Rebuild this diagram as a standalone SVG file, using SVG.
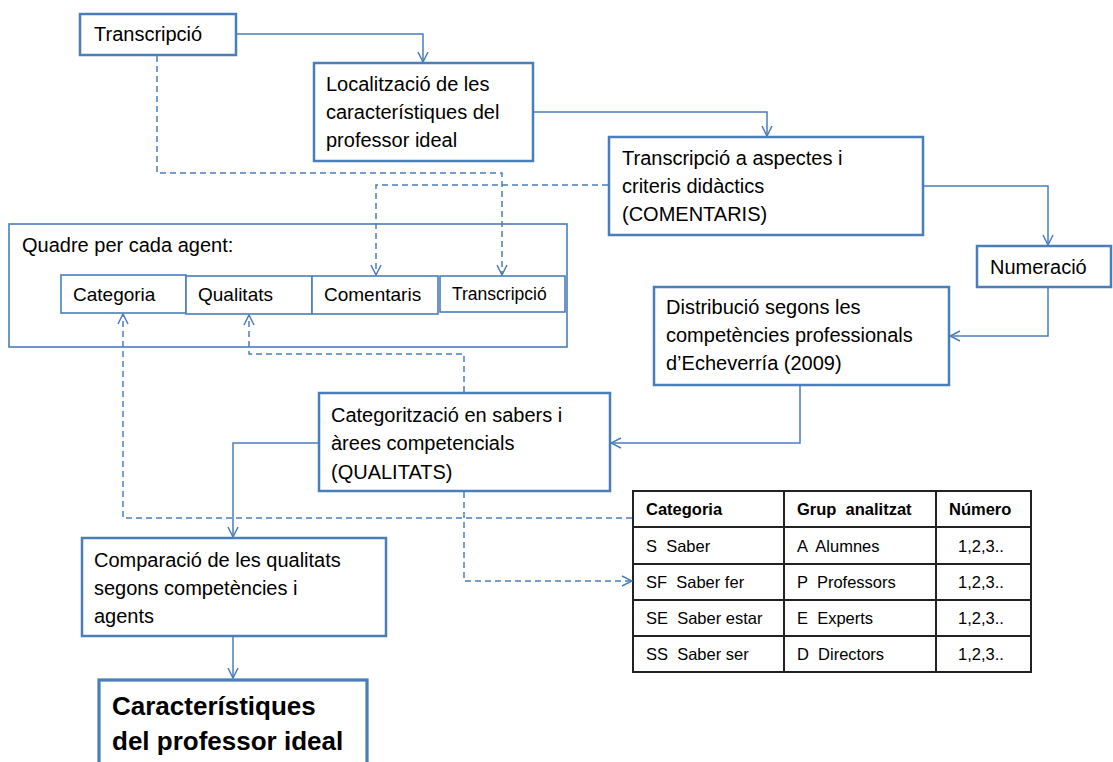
<svg xmlns="http://www.w3.org/2000/svg" width="1113" height="762" viewBox="0 0 1113 762">
  <style>
    .box { fill: #fff; stroke: #4a7ebb; stroke-width: 2.5; }
    .thin { fill: #fff; stroke: #4a7ebb; stroke-width: 1.6; }
    .big { fill: #fff; stroke: #4a7ebb; stroke-width: 3.2; }
    .t { font-family: "Liberation Sans", Arial, sans-serif; font-size: 20px; fill: #000; }
    .cell { font-family: "Liberation Sans", Arial, sans-serif; font-size: 19px; fill: #000; }
    .bold { font-family: "Liberation Sans", Arial, sans-serif; font-size: 26px; font-weight: bold; fill: #000; }
    .tab { font-family: "Liberation Sans", Arial, sans-serif; font-size: 16.5px; fill: #000; white-space: pre; }
    .tabh { font-family: "Liberation Sans", Arial, sans-serif; font-size: 16.5px; font-weight: bold; fill: #000; white-space: pre; }
    .solid { fill: none; stroke: #4a7ebb; stroke-width: 1.5; marker-end: url(#arr); }
    .dash { fill: none; stroke: #4a7ebb; stroke-width: 1.5; stroke-dasharray: 6 4; marker-end: url(#arr); }
    .grid { fill: none; stroke: #222; stroke-width: 2; }
  </style>
  <defs>
    <marker id="arr" viewBox="0 0 12 12" refX="11" refY="6" markerWidth="12" markerHeight="12" markerUnits="userSpaceOnUse" orient="auto">
      <polyline points="1,1 11,6 1,11" fill="none" stroke="#4a7ebb" stroke-width="1.5"/>
    </marker>
  </defs>
  <rect width="1113" height="762" fill="#fff"/>

  <g id="n-transcripcio">
    <rect class="box" x="80" y="14" width="156" height="41"/>
    <text class="t" x="94" y="41">Transcripció</text>
  </g>

  <g id="n-localitzacio">
    <rect class="box" x="314" y="63" width="219" height="98"/>
    <text class="t" x="326" y="91">Localització de les</text>
    <text class="t" x="326" y="119">característiques del</text>
    <text class="t" x="326" y="147">professor ideal</text>
  </g>

  <g id="n-aspectes">
    <rect class="box" x="609" y="137" width="314" height="98"/>
    <text class="t" x="622" y="165">Transcripció a aspectes i</text>
    <text class="t" x="622" y="193">criteris didàctics</text>
    <text class="t" x="622" y="221">(COMENTARIS)</text>
  </g>

  <g id="n-numeracio">
    <rect class="box" x="977" y="246" width="134" height="41"/>
    <text class="t" x="990" y="274">Numeració</text>
  </g>

  <g id="n-distribucio">
    <rect class="box" x="654" y="287" width="295" height="98"/>
    <text class="t" x="666" y="314">Distribució segons les</text>
    <text class="t" x="666" y="342">competències professionals</text>
    <text class="t" x="666" y="370">d’Echeverría (2009)</text>
  </g>

  <g id="n-quadre">
    <rect class="thin" x="9" y="224" width="558" height="123"/>
    <text class="t" x="22" y="252">Quadre per cada agent:</text>
    <rect class="thin" x="61" y="275" width="125" height="38"/>
    <text class="cell" x="73" y="301">Categoria</text>
    <rect class="thin" x="186" y="276" width="126" height="38"/>
    <text class="cell" x="198" y="301">Qualitats</text>
    <rect class="thin" x="312" y="276" width="126" height="38"/>
    <text class="cell" x="324" y="301">Comentaris</text>
    <rect class="thin" x="440" y="276" width="125" height="36"/>
    <text class="cell" x="452" y="300" style="font-size:17.5px">Transcripció</text>
  </g>

  <g id="n-categoritzacio">
    <rect class="box" x="319" y="393" width="291" height="98"/>
    <text class="t" x="331" y="422">Categorització en sabers i</text>
    <text class="t" x="331" y="450">àrees competencials</text>
    <text class="t" x="331" y="479">(QUALITATS)</text>
  </g>

  <g id="n-comparacio">
    <rect class="box" x="82" y="538" width="304" height="98"/>
    <text class="t" x="94" y="567">Comparació de les qualitats</text>
    <text class="t" x="94" y="595">segons competències i</text>
    <text class="t" x="94" y="623">agents</text>
  </g>

  <g id="n-caracteristiques">
    <rect class="big" x="99" y="680" width="268" height="100"/>
    <text class="bold" x="112" y="715">Característiques</text>
    <text class="bold" x="112" y="750">del professor ideal</text>
  </g>

  <g id="n-taula">
    <rect class="grid" x="633" y="491" width="398" height="181"/>
    <path class="grid" d="M784,491 V672 M936,491 V672 M633,527 H1031 M633,564 H1031 M633,600 H1031 M633,636 H1031"/>
    <text class="tabh" x="646" y="515">Categoria</text>
    <text class="tabh" x="797" y="515">Grup  analitzat</text>
    <text class="tabh" x="949" y="515">Número</text>
    <text class="tab" x="646" y="552">S  Saber</text>
    <text class="tab" x="797" y="552">A  Alumnes</text>
    <text class="tab" x="958" y="552">1,2,3..</text>
    <text class="tab" x="646" y="588">SF  Saber fer</text>
    <text class="tab" x="797" y="588">P  Professors</text>
    <text class="tab" x="958" y="588">1,2,3..</text>
    <text class="tab" x="646" y="624">SE  Saber estar</text>
    <text class="tab" x="797" y="624">E  Experts</text>
    <text class="tab" x="958" y="624">1,2,3..</text>
    <text class="tab" x="646" y="660">SS  Saber ser</text>
    <text class="tab" x="797" y="660">D  Directors</text>
    <text class="tab" x="958" y="660">1,2,3..</text>
  </g>

  <!-- connectors, drawn last so the dashed links show over the frame -->
  <g id="connectors">
    <path class="solid" d="M236,34 H423 V62"/>
    <path class="solid" d="M533,112 H767 V136"/>
    <path class="solid" d="M923,186 H1048 V245"/>
    <path class="solid" d="M1048,287 V336 H950"/>
    <path class="solid" d="M800,385 V443 H611"/>
    <path class="solid" d="M319,443 H233 V537"/>
    <path class="solid" d="M233,636 V678"/>
    <path class="dash" d="M157,56 V173 H502 V275"/>
    <path class="dash" d="M608,185 H376 V275"/>
    <path class="dash" d="M464,392 V354 H249 V315"/>
    <path class="dash" d="M632,518 H123 V314"/>
    <path class="dash" d="M464,492 V581 H632"/>
  </g>
</svg>
